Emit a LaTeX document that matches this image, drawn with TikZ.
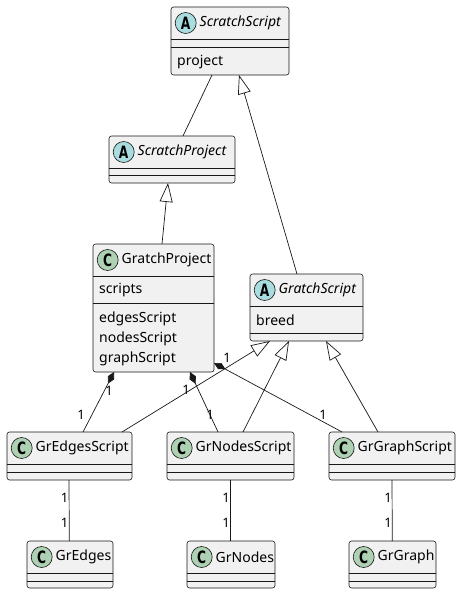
\documentclass[tikz,border=0pt]{standalone}
\usepackage{fontspec}
\setmainfont{Noto Sans}
\newfontfamily\badgefont{DejaVu Sans}
\usetikzlibrary{arrows.meta}
\definecolor{umlline}{HTML}{181818}
\definecolor{umlfill}{HTML}{F1F1F1}
\definecolor{abstractbadge}{HTML}{A9DCDF}
\definecolor{classbadge}{HTML}{ADD1B2}
\tikzset{
  classshape/.style={draw=umlline, fill=umlfill, line width=0.6pt, rounded corners=2.5pt, inner sep=0pt, outer sep=0pt},
  sepline/.style={draw=umlline, line width=0.6pt},
  badge/.style={circle, draw=umlline, line width=0.6pt, minimum size=21pt, inner sep=0pt, font=\badgefont\fontsize{17}{17}\selectfont\bfseries},
  titletext/.style={inner sep=0pt, font=\fontsize{14}{16}\selectfont},
  membertext/.style={inner sep=0pt, anchor=west, font=\fontsize{14}{16}\selectfont},
  lbl/.style={inner sep=0pt, font=\fontsize{13}{14}\selectfont},
  conn/.style={draw=umlline, line width=0.7pt},
  inherit/.style={conn, -{Triangle[open, fill=white, length=19pt, width=13pt]}},
  compose/.style={conn, {Diamond[length=13pt, width=7pt, fill=umlline]}-},
}
\newcommand\classbox[9]{%
  \node[classshape, minimum width={#4-#2}, minimum height={#5-#3}, anchor=north west] (#1) at (#2,#3) {};
  \draw[sepline] (#2,#3+32) -- (#4,#3+32);
  \draw[sepline] (#2,#6) -- (#4,#6);
  \node[badge, fill=#8] (#1-badge) at (#2+14.7,#3+16) {\scalebox{0.72}[1]{#7}};
  \node[titletext, anchor=west] (#1-title) at (#2+28.5,#3+16) {#9};
}
\begin{document}
\begin{tikzpicture}[x=1pt, y=-1pt]
\useasboundingbox (0,0) rectangle (461,594);
% classes
\classbox{ss}{171}{7}{289}{75}{47}{A}{abstractbadge}{\itshape ScratchScript}
\node[membertext] (ss-m1) at (177,62) {project};
\classbox{sp}{109}{136}{235}{183}{175}{A}{abstractbadge}{\itshape ScratchProject}
\classbox{gp}{93}{244}{214}{372}{303}{C}{classbadge}{GratchProject}
\node[membertext] (gp-f1) at (99,290) {scripts};
\node[membertext] (gp-m1) at (99,319) {edgesScript};
\node[membertext] (gp-m2) at (99,339) {nodesScript};
\node[membertext] (gp-m3) at (99,358.5) {graphScript};
\classbox{gs}{250}{274}{363}{341}{333}{A}{abstractbadge}{\itshape GratchScript}
\node[membertext] (gs-f1) at (256,320.5) {breed};
\classbox{ges}{7}{432}{132}{480}{472}{C}{classbadge}{GrEdgesScript}
\classbox{gns}{167}{432}{294}{480}{472}{C}{classbadge}{GrNodesScript}
\classbox{ggs}{329}{432}{455}{480}{472}{C}{classbadge}{GrGraphScript}
\classbox{ge}{27}{541}{113}{588}{581}{C}{classbadge}{GrEdges}
\classbox{gn}{187}{541}{275}{588}{581}{C}{classbadge}{GrNodes}
\classbox{gg}{349}{541}{436}{588}{581}{C}{classbadge}{GrGraph}
% connectors
\draw[conn] ([xshift=41pt]ss.south west) -- ([xshift=74pt]sp.north west);
\draw[inherit] ([xshift=47pt]gs.north west) -- ([xshift=68pt]ss.south west);
\draw[inherit] ([xshift=69pt]gp.north west) -- ([xshift=59pt]sp.south west);
\draw[compose] ([xshift=21pt]gp.south west) -- ([xshift=76pt]ges.north west);
\draw[compose] ([xshift=97pt]gp.south west) -- ([xshift=51pt]gns.north west);
\draw[compose] ([yshift=9pt]gp.south east) -- ([xshift=13pt]ggs.north west);
\draw[inherit] ([xshift=115pt]ges.north west) -- ([xshift=20pt]gs.south west);
\draw[inherit] ([xshift=76pt]gns.north west) -- ([xshift=39pt]gs.south west);
\draw[inherit] ([xshift=49pt]ggs.north west) -- ([xshift=76pt]gs.south west);
\draw[conn] ([xshift=62pt]ges.south west) -- ([xshift=42.3pt]ge.north west);
\draw[conn] ([xshift=63pt]gns.south west) -- ([xshift=43pt]gn.north west);
\draw[conn] ([xshift=63pt]ggs.south west) -- ([xshift=43.3pt]gg.north west);
% multiplicity labels
\node[lbl] (l1) at (109,390.5) {1};
\node[lbl] (l2) at (81,415) {1};
\node[lbl] (l3) at (186,390) {1};
\node[lbl] (l4) at (210,415) {1};
\node[lbl] (l5) at (227,358) {1};
\node[lbl] (l6) at (323,415) {1};
\node[lbl] (l7) at (64.5,498) {1};
\node[lbl] (l8) at (64.5,523) {1};
\node[lbl] (l9) at (226,498) {1};
\node[lbl] (l10) at (226,523) {1};
\node[lbl] (l11) at (388,498) {1};
\node[lbl] (l12) at (388,523) {1};
\end{tikzpicture}
\end{document}
